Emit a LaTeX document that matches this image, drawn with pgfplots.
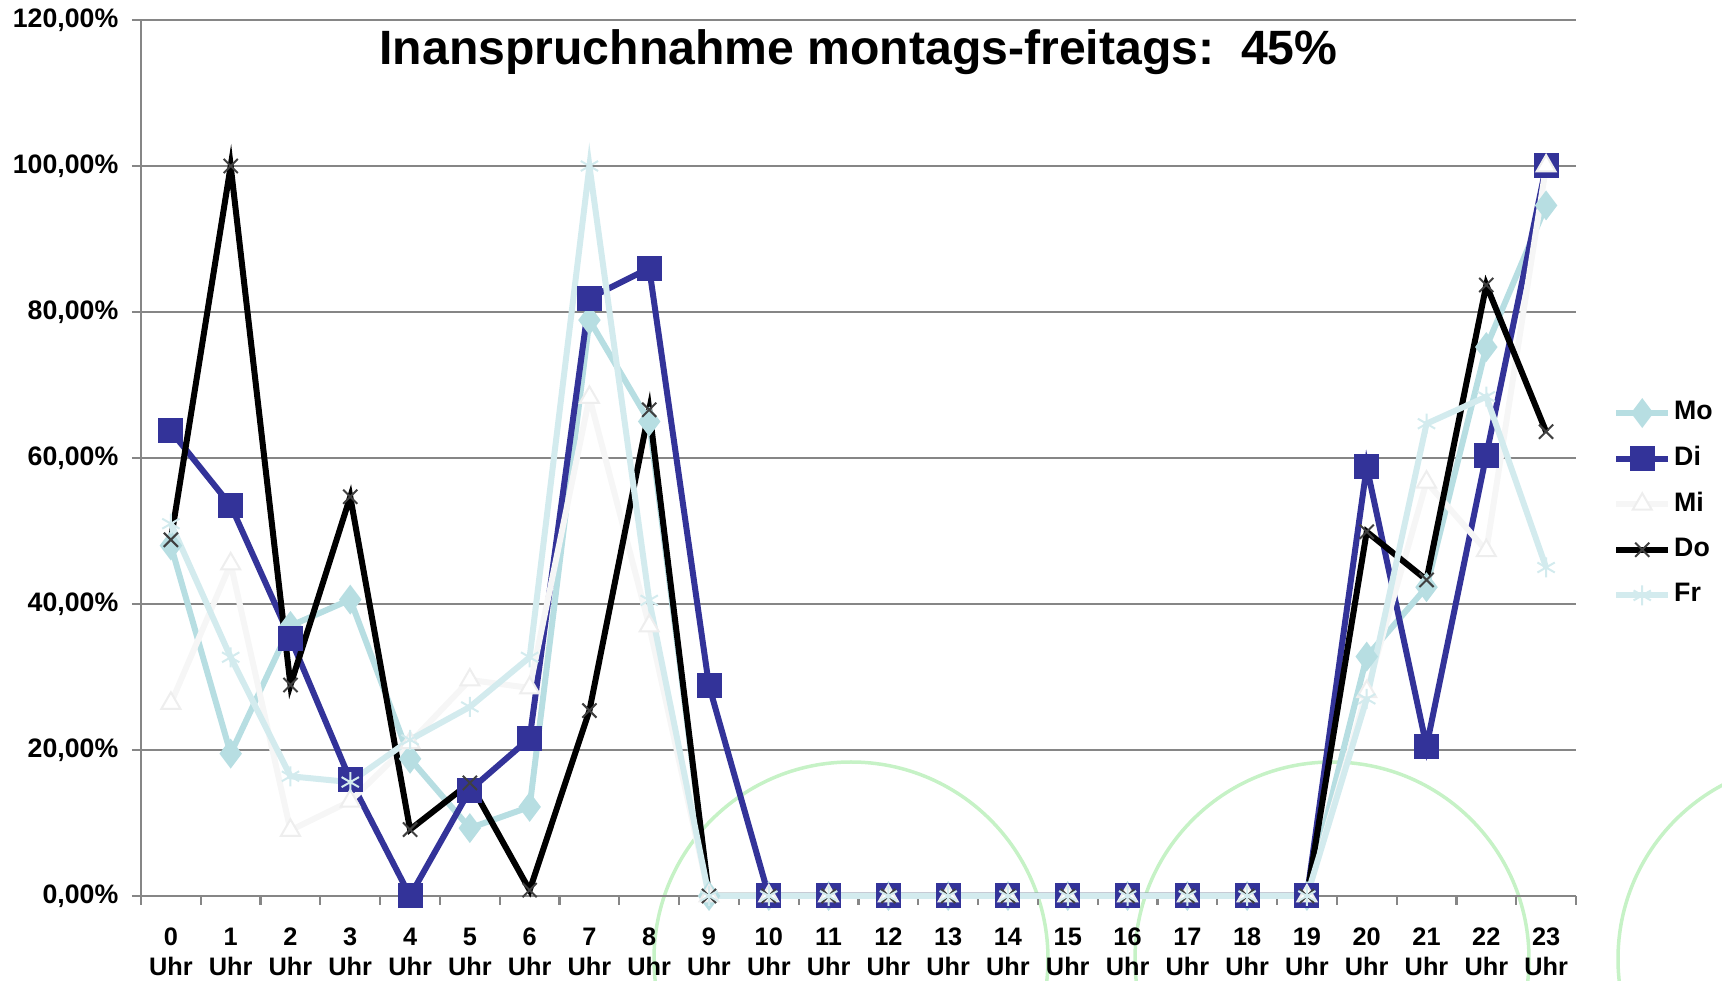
\documentclass[border=0pt]{standalone}
\usepackage{fontspec}
\setmainfont{Liberation Sans}
\usepackage{graphicx}
\usepackage{pgfplots}
\usepackage{pgfplotstable}
\pgfplotsset{compat=1.18}
\definecolor{mo}{RGB}{183,222,226}
\definecolor{di}{RGB}{51,51,153}
\definecolor{mi}{RGB}{246,246,246}
\definecolor{miedge}{RGB}{238,238,238}
\definecolor{fr}{RGB}{211,235,238}
\definecolor{gridgray}{RGB}{134,134,134}
\definecolor{circ}{RGB}{198,242,198}
\pgfplotstableread{
h Mo Di Mi Do Fr
0 48.0 63.7 26.4 48.8 51.0
1 19.5 53.5 45.5 100.0 32.7
2 37.0 35.3 9.0 28.9 16.4
3 40.6 15.9 13.0 54.7 15.6
4 18.8 0.0 21.0 9.1 21.4
5 9.3 14.5 29.6 15.5 25.9
6 12.2 21.6 28.5 0.8 32.7
7 78.9 81.9 68.3 25.4 100.0
8 65.0 86.0 37.0 66.6 40.5
9 0 28.8 0 0 0
10 0 0 0 0 0
11 0 0 0 0 0
12 0 0 0 0 0
13 0 0 0 0 0
14 0 0 0 0 0
15 0 0 0 0 0
16 0 0 0 0 0
17 0 0 0 0 0
18 0 0 0 0 0
19 0 0 0 0 0
20 32.8 58.8 28.0 49.9 27.0
21 42.3 20.5 56.7 43.3 64.7
22 75.2 60.4 47.3 83.7 68.4
23 94.6 100.0 100.0 63.6 45.0
}\data
\begin{document}
\begin{tikzpicture}
\draw[circ, line width=0.35mm] (71.0mm,-6.3mm) circle (19.7mm);
\draw[circ, line width=0.35mm] (119.1mm,-6.3mm) circle (19.7mm);
\draw[circ, line width=0.35mm] (167.4mm,-6.3mm) circle (19.7mm);
\begin{axis}[
  at={(0,0)}, anchor=south west,
  scale only axis, width=143.5mm, height=87.6mm,
  xmin=-0.5, xmax=23.5, ymin=0, ymax=120,
  clip=false,
  axis x line=bottom, axis y line=left,
  axis line style={gridgray, line width=0.28mm, -},
  xtick={-0.5,0.5,...,23.5},
  x tick label as interval,
  xticklabels={{0\\Uhr},{1\\Uhr},{2\\Uhr},{3\\Uhr},{4\\Uhr},{5\\Uhr},{6\\Uhr},{7\\Uhr},{8\\Uhr},{9\\Uhr},{10\\Uhr},{11\\Uhr},{12\\Uhr},{13\\Uhr},{14\\Uhr},{15\\Uhr},{16\\Uhr},{17\\Uhr},{18\\Uhr},{19\\Uhr},{20\\Uhr},{21\\Uhr},{22\\Uhr},{23\\Uhr}},
  major tick length=0.9mm,
  tick align=outside,
  tick style={gridgray, line width=0.22mm},
  xticklabel style={align=center, inner sep=0pt, anchor=north, yshift=-2.2mm,
     font=\bfseries\fontsize{7.2}{8.7}\selectfont},
  ytick={0,20,...,120},
  yticklabels={{0,00\%},{20,00\%},{40,00\%},{60,00\%},{80,00\%},{100,00\%},{120,00\%}},
  yticklabel style={anchor=east, inner sep=0pt, xshift=-1.3mm,
     font=\bfseries\fontsize{7.6}{9}\selectfont},
  ymajorgrids,
  major grid style={gridgray, line width=0.22mm},
  title={Inanspruchnahme montags-freitags:~~45\%},
  title style={at={(0.5,1)}, anchor=base, yshift=-6.6mm, inner sep=0pt,
     font=\bfseries\fontsize{13.7}{16}\selectfont},
  legend style={draw=none, fill=none, at={(1,0)}, anchor=north west,
     xshift=2.6mm, yshift=51.35mm, row sep=0pt,
     font=\bfseries\fontsize{7.6}{9}\selectfont,
     nodes={inner sep=0pt, minimum height=4.56mm},
     /tikz/every odd column/.append style={column sep=0.3mm}},
  legend cell align=left,
  legend image code/.code={\draw[mark repeat=2,mark phase=2,#1] plot coordinates {(0mm,0mm) (2.6mm,0mm) (5.2mm,0mm)};},
  every axis plot/.append style={line width=0.6mm},
]
\addplot[mo, mark=diamond*, mark size=1.0mm, mark options={solid, fill=mo, draw=mo}] table[x=h, y=Mo] {\data};
\addplot[di, mark=square*, mark size=0.95mm, mark options={solid, fill=di, draw=di}] table[x=h, y=Di] {\data};
\addplot[mi, mark=triangle*, mark size=1.1mm, mark options={solid, fill=white, draw=miedge, line width=0.2mm}] table[x=h, y=Mi] {\data};
\addplot[black, mark=x, mark size=1.0mm, mark options={solid, draw=black!75, line width=0.2mm}] table[x=h, y=Do] {\data};
\addplot[fr, mark=asterisk, mark size=1.0mm, mark options={solid, draw=fr, line width=0.2mm}] table[x=h, y=Fr] {\data};
\legend{Mo,Di,Mi,Do,Fr}
\end{axis}
\pgfresetboundingbox
\path[use as bounding box] (-14.1mm,-8.5mm) rectangle (158.1mm,89.6mm);
\end{tikzpicture}
\end{document}
